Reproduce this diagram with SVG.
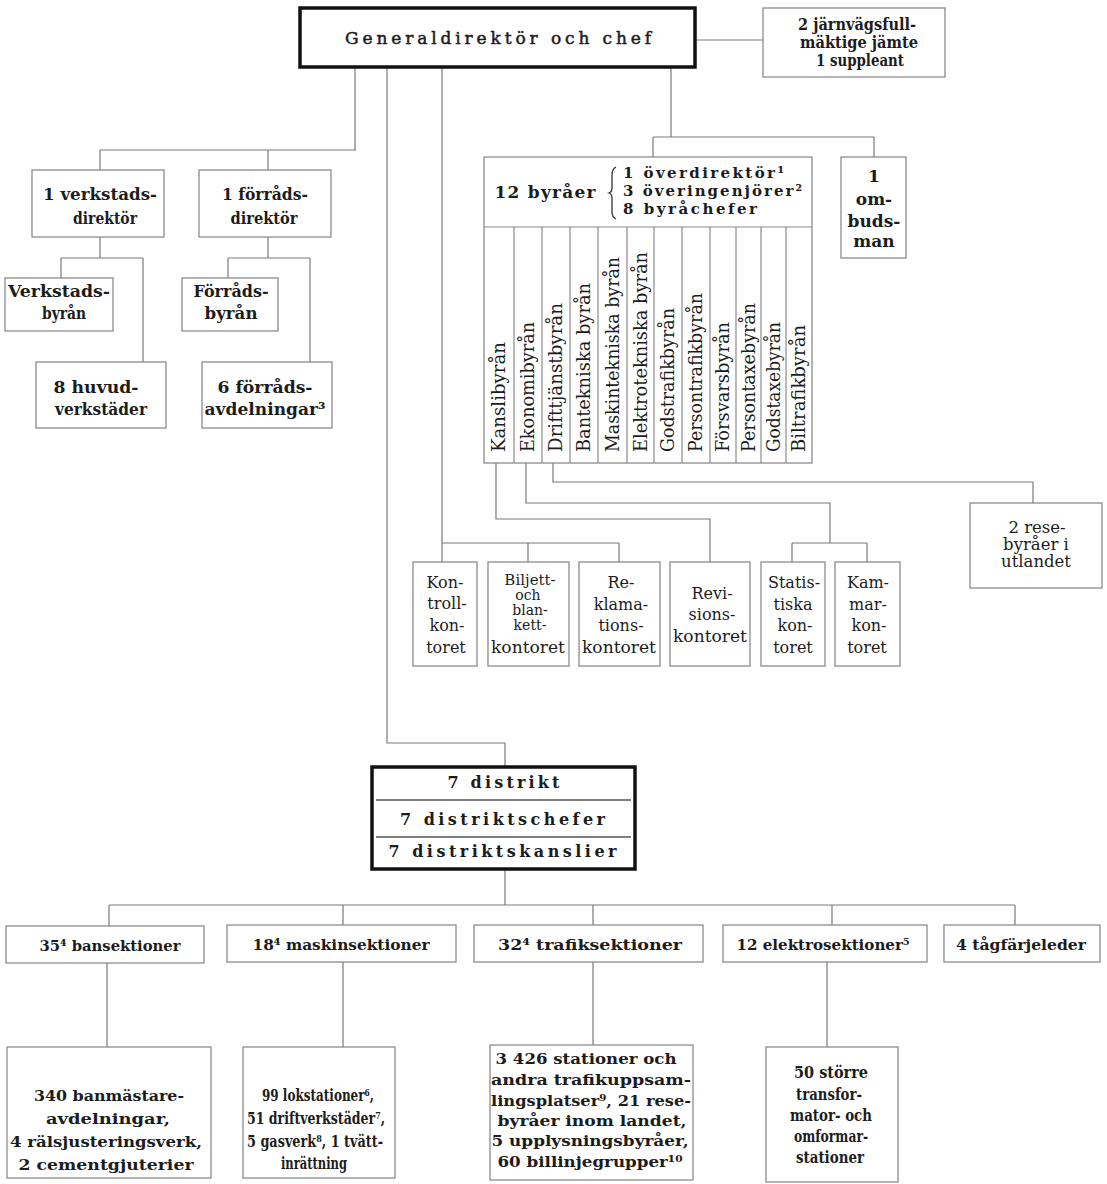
<svg xmlns="http://www.w3.org/2000/svg" width="1107" height="1184" viewBox="0 0 1107 1184">
<style>
.bx{fill:#fff;stroke:#8c8c8c;stroke-width:1.3}
.hv{fill:#fff;stroke:#111;stroke-width:3.5}
.dv{stroke:#555;stroke-width:1.5}
.cl{stroke:#8c8c8c;stroke-width:1.2}
.c{fill:none;stroke:#7a7a7a;stroke-width:1.2}
text{font-family:"DejaVu Serif","Liberation Serif",serif;fill:#1c1c1c;text-anchor:middle}
.b{font-weight:bold}
.m{stroke:#1c1c1c;stroke-width:0.5}
.s{text-anchor:start}
.f14{font-size:14px}.f15{font-size:15px}.f16{font-size:16px}.f165{font-size:16.5px}.f17{font-size:17px}.f18{font-size:18px}
</style>
<rect x="0" y="0" width="1107" height="1184" fill="#fff"/>

<g id="connectors">
<path class="c" d="M355,68 V150 M100,150 H356 M100,150 V170 M268,150 V170"/>
<path class="c" d="M100,237 V258 M61,258 H143 M61,258 V278 M143,258 V362"/>
<path class="c" d="M268,237 V258 M228,258 H310 M228,258 V278 M310,258 V362"/>
<path class="c" d="M671,68 V137 M653,137 H874 M653,137 V157 M874,137 V157"/>
<path class="c" d="M695,40 H763"/>
<path class="c" d="M387,68 V743 H505 V767"/>
<path class="c" d="M442,68 V562 M442,543 H619 M528,543 V562 M619,543 V562"/>
<path class="c" d="M496,463 V519 H710 V562"/>
<path class="c" d="M526,463 V503 H830 V543 M792,543 H867 M792,543 V562 M867,543 V562"/>
<path class="c" d="M553,463 V482 H1033 V503"/>
<path class="c" d="M505,869 V905 M109,905 H1015 M109,905 V926 M343,905 V925 M593,905 V925 M832,905 V925 M1015,905 V925"/>
<path class="c" d="M107,963 V1047 M343,962 V1047 M593,962 V1045 M827,962 V1047"/>
</g>

<g id="generaldirektor">
<rect class="hv" x="300" y="8" width="395" height="59"/>
<text class="f17 m" x="500" y="44" letter-spacing="4" textLength="310">Generaldirektör och chef</text>
</g>

<g id="fullmaktige">
<rect class="bx" x="763" y="8" width="182" height="69"/>
<text class="b f16" x="857" y="30" textLength="118" lengthAdjust="spacingAndGlyphs">2 järnvägsfull-</text>
<text class="b f16" x="859" y="48" textLength="118" lengthAdjust="spacingAndGlyphs">mäktige jämte</text>
<text class="b f16" x="860" y="66" textLength="88" lengthAdjust="spacingAndGlyphs">1 suppleant</text>
</g>

<g id="verkstadsdirektor">
<rect class="bx" x="32" y="170" width="132" height="67"/>
<text class="b f17" x="100" y="200" textLength="114" lengthAdjust="spacingAndGlyphs">1 verkstads-</text>
<text class="b f17" x="105" y="224" textLength="64" lengthAdjust="spacingAndGlyphs">direktör</text>
</g>

<g id="forradsdirektor">
<rect class="bx" x="199" y="170" width="132" height="67"/>
<text class="b f17" x="265" y="200" textLength="86" lengthAdjust="spacingAndGlyphs">1 förråds-</text>
<text class="b f17" x="264" y="224" textLength="67" lengthAdjust="spacingAndGlyphs">direktör</text>
</g>

<g id="verkstadsbyran">
<rect class="bx" x="5" y="278" width="108" height="53"/>
<text class="b f17" x="59" y="297" textLength="102" lengthAdjust="spacingAndGlyphs">Verkstads-</text>
<text class="b f17" x="64" y="319" textLength="44" lengthAdjust="spacingAndGlyphs">byrån</text>
</g>

<g id="forradsbyran">
<rect class="bx" x="182" y="278" width="96" height="53"/>
<text class="b f17" x="231" y="297" textLength="75" lengthAdjust="spacingAndGlyphs">Förråds-</text>
<text class="b f17" x="231" y="319" textLength="53" lengthAdjust="spacingAndGlyphs">byrån</text>
</g>

<g id="huvudverkstader">
<rect class="bx" x="36" y="362" width="130" height="66"/>
<text class="b f17" x="96" y="393" textLength="85" lengthAdjust="spacingAndGlyphs">8 huvud-</text>
<text class="b f17" x="101" y="415" textLength="92" lengthAdjust="spacingAndGlyphs">verkstäder</text>
</g>

<g id="forradsavdelningar">
<rect class="bx" x="202" y="362" width="130" height="66"/>
<text class="b f17" x="265" y="393" textLength="95" lengthAdjust="spacingAndGlyphs">6 förråds-</text>
<text class="b f17" x="265" y="415" textLength="121" lengthAdjust="spacingAndGlyphs">avdelningar³</text>
</g>

<g id="byraer">
<rect class="bx" x="484" y="157" width="328" height="306"/>
<line class="cl" x1="484" y1="227" x2="812" y2="227"/>
<path class="cl" fill="none" d="M514,227 V463 M542,227 V463 M570,227 V463 M598,227 V463 M627,227 V463 M654,227 V463 M682,227 V463 M710,227 V463 M736,227 V463 M761,227 V463 M786,227 V463"/>
<text class="b f17" x="546" y="198" letter-spacing="2" textLength="103">12 byråer</text>
<path fill="none" stroke="#333" stroke-width="1.3" d="M616,167 Q612,169 612,175 L612,188 Q612,192 609,193 Q612,194 612,198 L612,212 Q612,217 616,219"/>
<text class="b f15 s" x="623" y="178" letter-spacing="1" textLength="162">1 överdirektör¹</text>
<text class="b f15 s" x="623" y="196" letter-spacing="1" textLength="180">3 överingenjörer²</text>
<text class="b f15 s" x="623" y="214" letter-spacing="1" textLength="135">8 byråchefer</text>
<g class="f18">
<text class="s" transform="translate(505,452) rotate(-90)" textLength="110" lengthAdjust="spacingAndGlyphs">Kanslibyrån</text>
<text class="s" transform="translate(534,452) rotate(-90)" textLength="130" lengthAdjust="spacingAndGlyphs">Ekonomibyrån</text>
<text class="s" transform="translate(562,452) rotate(-90)" textLength="149" lengthAdjust="spacingAndGlyphs">Drifttjänstbyrån</text>
<text class="s" transform="translate(590,452) rotate(-90)" textLength="169" lengthAdjust="spacingAndGlyphs">Bantekniska byrån</text>
<text class="s" transform="translate(618.5,452) rotate(-90)" textLength="195" lengthAdjust="spacingAndGlyphs">Maskintekniska byrån</text>
<text class="s" transform="translate(646.5,452) rotate(-90)" textLength="200" lengthAdjust="spacingAndGlyphs">Elektrotekniska byrån</text>
<text class="s" transform="translate(674,452) rotate(-90)" textLength="144" lengthAdjust="spacingAndGlyphs">Godstrafikbyrån</text>
<text class="s" transform="translate(702,452) rotate(-90)" textLength="159" lengthAdjust="spacingAndGlyphs">Persontrafikbyrån</text>
<text class="s" transform="translate(729,452) rotate(-90)" textLength="130" lengthAdjust="spacingAndGlyphs">Försvarsbyrån</text>
<text class="s" transform="translate(754.5,452) rotate(-90)" textLength="149" lengthAdjust="spacingAndGlyphs">Persontaxebyrån</text>
<text class="s" transform="translate(779.5,452) rotate(-90)" textLength="130" lengthAdjust="spacingAndGlyphs">Godstaxebyrån</text>
<text class="s" transform="translate(804.5,452) rotate(-90)" textLength="127" lengthAdjust="spacingAndGlyphs">Biltrafikbyrån</text>
</g>
</g>

<g id="ombudsman">
<rect class="bx" x="841" y="157" width="65" height="101"/>
<text class="b f17" x="874" y="182">1</text>
<text class="b f17" x="874" y="205">om-</text>
<text class="b f17" x="874" y="227">buds-</text>
<text class="b f17" x="874" y="247">man</text>
</g>

<g id="kontrollkontoret">
<rect class="bx" x="413" y="562" width="64" height="104"/>
<text class="f16" x="445" y="588">Kon-</text>
<text class="f16" x="447" y="609">troll-</text>
<text class="f16" x="447" y="631">kon-</text>
<text class="f16" x="446" y="653">toret</text>
</g>

<g id="biljettkontoret">
<rect class="bx" x="488" y="562" width="81" height="104"/>
<text class="f15" x="530" y="585">Biljett-</text>
<text class="f14" x="528" y="600">och</text>
<text class="f14" x="530" y="615">blan-</text>
<text class="f14" x="530" y="630">kett-</text>
<text class="f16" x="528" y="653" textLength="74" lengthAdjust="spacingAndGlyphs">kontoret</text>
</g>

<g id="reklamationskontoret">
<rect class="bx" x="579" y="562" width="81" height="104"/>
<text class="f16" x="621" y="588">Re-</text>
<text class="f16" x="621" y="610">klama-</text>
<text class="f16" x="621" y="631">tions-</text>
<text class="f16" x="619" y="653" textLength="74" lengthAdjust="spacingAndGlyphs">kontoret</text>
</g>

<g id="revisionskontoret">
<rect class="bx" x="670" y="562" width="80" height="104"/>
<text class="f16" x="712" y="599">Revi-</text>
<text class="f16" x="712" y="620">sions-</text>
<text class="f16" x="710" y="642" textLength="74" lengthAdjust="spacingAndGlyphs">kontoret</text>
</g>

<g id="statistiskakontoret">
<rect class="bx" x="761" y="562" width="64" height="104"/>
<text class="f16" x="794" y="588">Statis-</text>
<text class="f16" x="793" y="610">tiska</text>
<text class="f16" x="795" y="631">kon-</text>
<text class="f16" x="793" y="653">toret</text>
</g>

<g id="kammarkontoret">
<rect class="bx" x="835" y="562" width="65" height="104"/>
<text class="f16" x="868" y="588">Kam-</text>
<text class="f16" x="868" y="610">mar-</text>
<text class="f16" x="869" y="631">kon-</text>
<text class="f16" x="867" y="653">toret</text>
</g>

<g id="resebyraer-utlandet">
<rect class="bx" x="970" y="503" width="132" height="85"/>
<text class="f165" x="1037" y="533">2 rese-</text>
<text class="f165" x="1036" y="550">byråer i</text>
<text class="f165" x="1036" y="567">utlandet</text>
</g>

<g id="distrikt">
<rect class="hv" x="372" y="767" width="263" height="102" stroke-width="3"/>
<line class="dv" x1="376" y1="800" x2="631" y2="800"/>
<line class="dv" x1="376" y1="837" x2="631" y2="837"/>
<text class="b f16" x="505" y="788" letter-spacing="3" textLength="115">7 distrikt</text>
<text class="b f16" x="504" y="825" letter-spacing="3" textLength="208">7 distriktschefer</text>
<text class="b f16" x="504" y="857" letter-spacing="3" textLength="231">7 distriktskanslier</text>
</g>

<g id="bansektioner">
<rect class="bx" x="6" y="926" width="198" height="37"/>
<text class="b f15" x="110" y="951" textLength="141" lengthAdjust="spacingAndGlyphs">35⁴ bansektioner</text>
</g>

<g id="maskinsektioner">
<rect class="bx" x="227" y="925" width="229" height="37"/>
<text class="b f15" x="341" y="950" textLength="177" lengthAdjust="spacingAndGlyphs">18⁴ maskinsektioner</text>
</g>

<g id="trafiksektioner">
<rect class="bx" x="474" y="925" width="229" height="37"/>
<text class="b f15" x="590" y="950" textLength="184" lengthAdjust="spacingAndGlyphs">32⁴  trafiksektioner</text>
</g>

<g id="elektrosektioner">
<rect class="bx" x="723" y="925" width="204" height="37"/>
<text class="b f15" x="823" y="950" textLength="173" lengthAdjust="spacingAndGlyphs">12 elektrosektioner⁵</text>
</g>

<g id="tagfarjeleder">
<rect class="bx" x="944" y="925" width="156" height="37"/>
<text class="b f15" x="1021" y="950" textLength="130" lengthAdjust="spacingAndGlyphs">4 tågfärjeleder</text>
</g>

<g id="banmastareavdelningar">
<rect class="bx" x="7" y="1047" width="204" height="131"/>
<text class="b f15" x="109" y="1101" textLength="150" lengthAdjust="spacingAndGlyphs">340 banmästare-</text>
<text class="b f15" x="108" y="1124" textLength="124" lengthAdjust="spacingAndGlyphs">avdelningar,</text>
<text class="b f15" x="106" y="1147" textLength="192" lengthAdjust="spacingAndGlyphs">4 rälsjusteringsverk,</text>
<text class="b f15" x="106" y="1170" textLength="175" lengthAdjust="spacingAndGlyphs">2 cementgjuterier</text>
</g>

<g id="lokstationer">
<rect class="bx" x="243" y="1047" width="152" height="131"/>
<text class="b f165" x="318" y="1101" textLength="112" lengthAdjust="spacingAndGlyphs">99 lokstationer⁶,</text>
<text class="b f165" x="316" y="1124" textLength="138" lengthAdjust="spacingAndGlyphs">51  driftverkstäder⁷,</text>
<text class="b f165" x="315" y="1147" textLength="136" lengthAdjust="spacingAndGlyphs">5 gasverk⁸, 1 tvätt-</text>
<text class="b f165" x="314" y="1169" textLength="66" lengthAdjust="spacingAndGlyphs">inrättning</text>
</g>

<g id="stationer">
<rect class="bx" x="490" y="1045" width="203" height="135"/>
<text class="b f15" x="586" y="1064" textLength="181" lengthAdjust="spacingAndGlyphs">3 426 stationer och</text>
<text class="b f15" x="591" y="1085" textLength="200" lengthAdjust="spacingAndGlyphs">andra trafikuppsam-</text>
<text class="b f15" x="591" y="1106" textLength="200" lengthAdjust="spacingAndGlyphs">lingsplatser⁹, 21 rese-</text>
<text class="b f15" x="592" y="1126" textLength="189" lengthAdjust="spacingAndGlyphs">byråer inom landet,</text>
<text class="b f15" x="590" y="1146" textLength="197" lengthAdjust="spacingAndGlyphs">5 upplysningsbyråer,</text>
<text class="b f15" x="590" y="1167" textLength="185" lengthAdjust="spacingAndGlyphs">60 billinjegrupper¹⁰</text>
</g>

<g id="transformatorstationer">
<rect class="bx" x="766" y="1047" width="132" height="135"/>
<text class="b f16" x="831" y="1078" textLength="74" lengthAdjust="spacingAndGlyphs">50 större</text>
<text class="b f16" x="829" y="1100" textLength="66" lengthAdjust="spacingAndGlyphs">transfor-</text>
<text class="b f16" x="831" y="1121" textLength="82" lengthAdjust="spacingAndGlyphs">mator- och</text>
<text class="b f16" x="831" y="1142" textLength="74" lengthAdjust="spacingAndGlyphs">omformar-</text>
<text class="b f16" x="830" y="1163" textLength="68" lengthAdjust="spacingAndGlyphs">stationer</text>
</g>
</svg>
